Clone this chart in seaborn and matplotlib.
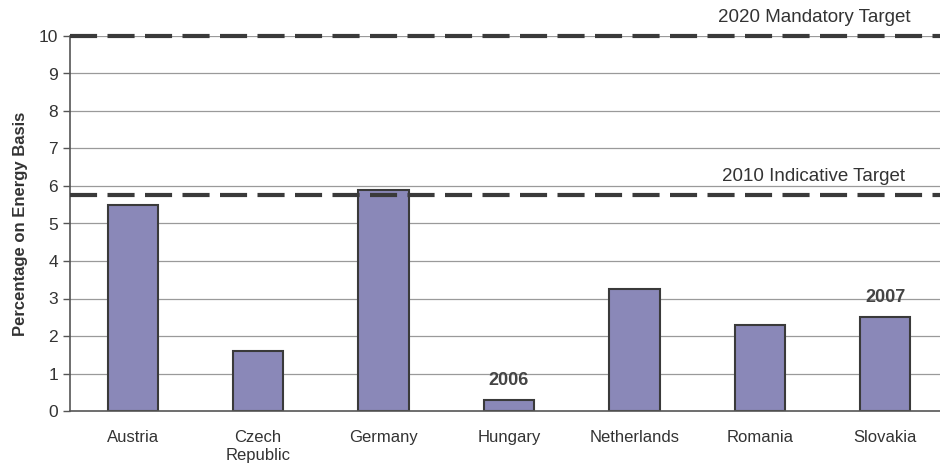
import matplotlib
matplotlib.use("Agg")
import matplotlib.pyplot as plt
import seaborn as sns
import pandas as pd

# Biofuel share by country
countries = ["Austria", "Czech\nRepublic", "Germany", "Hungary", "Netherlands", "Romania", "Slovakia"]
shares = [5.5, 1.6, 5.9, 0.3, 3.25, 2.3, 2.5]
year_notes = {"Hungary": "2006", "Slovakia": "2007"}
targets = [10.0, 5.75]
target_labels = ["2020 Mandatory Target", "2010 Indicative Target"]
y_ticks = list(range(0, 11))

sns.set_theme(style="white")
plt.rcParams["font.family"] = ["Liberation Sans", "DejaVu Sans"]

df = pd.DataFrame({"country": countries, "share": shares})

fig = plt.figure(figsize=(9.4, 4.73), dpi=100)
ax = fig.add_axes([70 / 940, 62 / 473, 878 / 940, 375 / 473])

for v in y_ticks[1:]:
    ax.axhline(v, color="#9a9a9a", lw=0.9, zorder=0)

sns.barplot(data=df, x="country", y="share", color="#8a88b8", width=0.4,
            edgecolor="#3a3a3a", linewidth=1.5, saturation=1, ax=ax, zorder=2)

for t, lab in zip(targets, target_labels):
    ax.axhline(t, color="#3a3a3a", lw=3, dashes=(6.5, 2.5), zorder=3, clip_on=False)
    ax.text(5.43, t + 0.28, lab, ha="center", va="bottom", fontsize=13.5, color="#333333")

for i, c in enumerate(countries):
    if c in year_notes:
        ax.text(i, shares[i] + 0.3, year_notes[c], ha="center", va="bottom",
                fontsize=13, fontweight="bold", color="#444444")

ax.set_xlim(-0.5, 6.5)
ax.set_ylim(0, 10)
ax.set_yticks(y_ticks)
ax.set_xticks([i + 0.5 for i in range(-1, 7)], minor=True)
ax.tick_params(axis="x", which="major", length=0, pad=14, labelsize=12, colors="#333333")
ax.tick_params(axis="x", which="minor", length=5, width=1, color="#555555", direction="out")
ax.tick_params(axis="y", length=5, width=1, color="#555555", direction="out", labelsize=12.5,
               colors="#333333", left=True)
ax.set_xlabel("")
ax.set_ylabel("Percentage on Energy Basis", fontsize=12, fontweight="bold", color="#333333",
              labelpad=8)

for side in ["top", "right"]:
    ax.spines[side].set_visible(False)
for side in ["left", "bottom"]:
    ax.spines[side].set_color("#555555")
    ax.spines[side].set_linewidth(1.2)

fig.savefig("out.png", dpi=100)
